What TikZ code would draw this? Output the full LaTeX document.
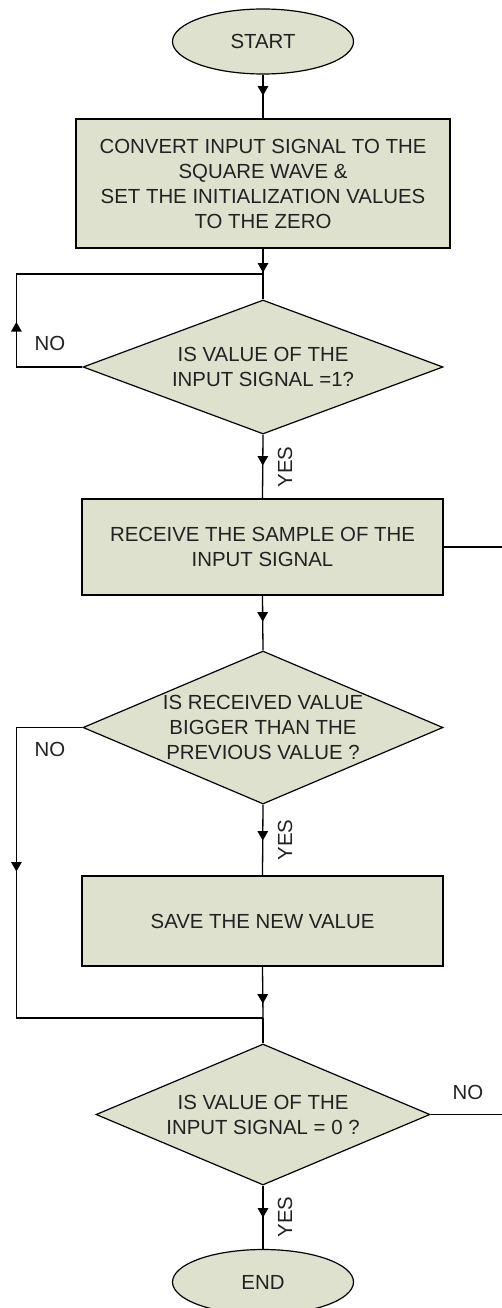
\documentclass[tikz,border=0pt]{standalone}
\usepackage{fontspec}
\setmainfont{Liberation Sans}
\usetikzlibrary{shapes.geometric,arrows.meta,decorations.markings}
\definecolor{boxfill}{HTML}{DEE1CD}
\definecolor{inkgray}{HTML}{222222}
\tikzset{
  flow/.style={draw=black, line width=1.2pt, fill=boxfill, text=inkgray,
    font=\fontsize{20.4}{25}\selectfont, align=center},
  terminal/.style={flow, ellipse, minimum width=181pt, minimum height=65pt, inner sep=0pt},
  process/.style={flow, rectangle, inner sep=0pt},
  decision/.style={flow, diamond, inner sep=0pt},
  caption/.style={text=inkgray, font=\fontsize{20.4}{25}\selectfont, inner sep=0pt, align=center},
  wire/.style={draw=black, line width=1.3pt},
  tipat/.style={postaction={decorate}, decoration={markings,
    mark=at position #1 with {\arrow{Triangle[width=10.5pt,length=9.5pt]}}}},
}
\begin{document}
\begin{tikzpicture}[x=1pt,y=-1pt]
  \useasboundingbox (0,0) rectangle (502,1308);
  \clip (0,0) rectangle (502,1308);

  % blocks
  \node[terminal] (start) at (263,41.5) {START};
  \node[process, minimum width=374pt, minimum height=129pt] (init) at (263,183.5)
    {CONVERT INPUT SIGNAL TO THE\\SQUARE WAVE \&\\SET THE INITIALIZATION VALUES\\TO THE ZERO};
  \coordinate (j1) at (263,274);
  \node[decision, minimum width=360pt, minimum height=134pt,
    label={[caption]center:IS VALUE OF THE\\INPUT SIGNAL =1?}] (chk1) at (263,367) {};
  \node[process, minimum width=361pt, minimum height=96pt] (recv) at (262.5,547)
    {RECEIVE THE SAMPLE OF THE\\INPUT SIGNAL};
  \coordinate (recvout) at (502,547);
  \node[decision, minimum width=360pt, minimum height=153pt,
    label={[caption]center:IS RECEIVED VALUE\\BIGGER THAN THE\\PREVIOUS VALUE ?}] (cmp) at (263,727.5) {};
  \node[process, minimum width=361pt, minimum height=90pt] (save) at (262.5,921)
    {SAVE THE NEW VALUE};
  \coordinate (j2) at (263,1018);
  \node[decision, minimum width=334pt, minimum height=141pt,
    label={[caption]center:IS VALUE OF THE\\INPUT SIGNAL = 0 ?}] (chk0) at (263,1114.5) {};
  \coordinate (zeroout) at (502,1114.5);
  \node[terminal] (end) at (263,1282) {END};

  % connectors
  \draw[wire, tipat=21pt] (start.south) -- (init.north);
  \draw[wire, tipat=24pt] (init.south) -- (j1);
  \draw[wire] (j1) -- (chk1.north);
  \draw[wire, tipat=111pt] (chk1.west) -- ++(-66,0) |- (j1);
  \draw[wire, tipat=31pt] (chk1.south) -- (recv.north);
  \draw[wire] (recv.east) -- (recvout);
  \draw[wire, tipat=26pt] (recv.south) -- (cmp.north);
  \draw[wire, tipat=210pt] (cmp.west) -- ++(-66,0) |- (j2);
  \draw[wire, tipat=36pt] (cmp.south) -- (save.north);
  \draw[wire, tipat=37pt] (save.south) -- (j2);
  \draw[wire] (j2) -- (chk0.north);
  \draw[wire] (chk0.east) -- (zeroout);
  \draw[wire, tipat=32pt] (chk0.south) -- (end.north);

  % branch captions
  \node[caption] (no1) at (50,343) {NO};
  \node[caption, rotate=90] (yes1) at (285,467) {YES};
  \node[caption] (no2) at (50,749) {NO};
  \node[caption, rotate=90] (yes2) at (285,840) {YES};
  \node[caption] (no3) at (468,1092) {NO};
  \node[caption, rotate=90] (yes3) at (285,1217) {YES};
\end{tikzpicture}
\end{document}
